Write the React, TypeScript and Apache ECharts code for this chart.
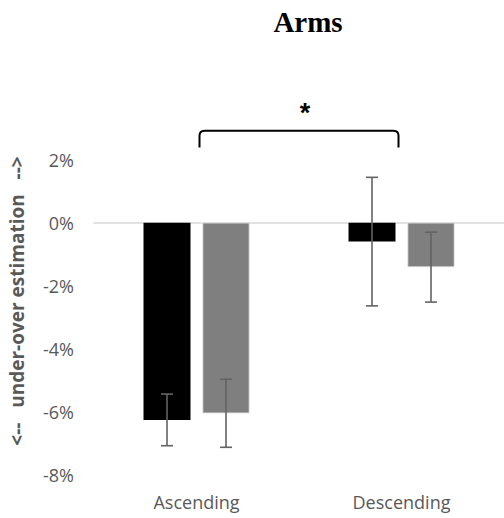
import React, { useEffect, useRef } from "react";
import * as echarts from "echarts";

const categories = ["Ascending", "Descending"];
const blackValues = [-6.26, -0.6];
const greyValues = [-6.05, -1.41];
const blackErrors = [0.82, 2.04];
const greyErrors = [1.08, 1.11];
const yTicks = [-8, -6, -4, -2, 0, 2, 4];
const bracket = [[0, 1, 2.92, 2.39]];

const FONT = "'Open Sans', 'Noto Sans', sans-serif";

export default function App() {
  const ref = useRef<HTMLDivElement>(null);
  useEffect(() => {
    document.body.style.margin = "0";
    const chart = echarts.init(ref.current!, null, { renderer: "svg" });
    const barW = 47;
    const gap = 12;
    const off = (barW + gap) / 2;
    const errData = (vals: number[], errs: number[], side: number) =>
      vals.map((v, i) => [i, v - errs[i], v + errs[i], side]);
    const errRender = (params: any, api: any) => {
      const i = api.value(0);
      const lo = api.coord([i, api.value(1)]);
      const hi = api.coord([i, api.value(2)]);
      const x = lo[0] + api.value(3) * off;
      const cap = 6;
      const style = { stroke: "#636363", lineWidth: 1.6, fill: "none" };
      return {
        type: "group",
        children: [
          { type: "line", shape: { x1: x, y1: lo[1], x2: x, y2: hi[1] }, style },
          { type: "line", shape: { x1: x - cap, y1: lo[1], x2: x + cap, y2: lo[1] }, style },
          { type: "line", shape: { x1: x - cap, y1: hi[1], x2: x + cap, y2: hi[1] }, style },
        ],
      };
    };
    chart.setOption({
      animation: false,
      grid: { left: 94, top: 96.7, width: 412, height: 378 },
      graphic: [
        {
          type: "text",
          x: 308,
          y: 22,
          style: {
            text: "Arms",
            fontFamily: "'Liberation Serif', 'Times New Roman', serif",
            fontWeight: "bold",
            fontSize: 29,
            fill: "#000",
            textAlign: "center",
            textVerticalAlign: "middle",
          },
        },
        {
          type: "text",
          x: 17,
          y: 301,
          rotation: Math.PI / 2,
          style: {
            text: "<--   under-over estimation   -->",
            fontFamily: FONT,
            fontWeight: "bold",
            fontSize: 19,
            fill: "#595959",
            textAlign: "center",
            textVerticalAlign: "middle",
          },
        },
      ],
      xAxis: {
        type: "category",
        data: categories,
        axisLine: { show: true, onZero: true, lineStyle: { color: "#d9d9d9", width: 1.5 } },
        axisTick: { show: false },
        axisLabel: {
          color: "#595959",
          fontSize: 18,
          fontFamily: FONT,
          margin: 18,
        },
        position: "bottom",
      },
      yAxis: {
        type: "value",
        min: -8,
        max: 4,
        interval: 2,
        axisLine: { show: false },
        axisTick: { show: false },
        splitLine: { show: false },
        axisLabel: {
          color: "#595959",
          fontSize: 18,
          fontFamily: FONT,
          margin: 20,
          formatter: (v: number) => (yTicks.includes(v) && v < 4 ? `${v}%` : ""),
        },
      },
      series: [
        {
          type: "bar",
          data: blackValues,
          barWidth: barW,
          barGap: `${(gap / barW) * 100}%`,
          itemStyle: { color: "#000000" },
        },
        {
          type: "bar",
          data: greyValues,
          barWidth: barW,
          itemStyle: { color: "#7f7f7f", borderColor: "#d9d9d9", borderWidth: 0.8 },
        },
        {
          type: "custom",
          data: errData(blackValues, blackErrors, -1),
          renderItem: errRender,
          z: 5,
        },
        {
          type: "custom",
          data: errData(greyValues, greyErrors, 1),
          renderItem: errRender,
          z: 5,
        },
        {
          type: "custom",
          data: bracket,
          clip: false,
          renderItem: (params: any, api: any) => {
            const a = api.coord([api.value(0), api.value(2)]);
            const b = api.coord([api.value(1), api.value(2)]);
            const leg = api.coord([api.value(0), api.value(3)]);
            const x1 = a[0] + 3;
            const x2 = b[0] - 3;
            const yt = a[1];
            const yb = leg[1];
            const r = 5;
            const d = `M ${x1} ${yb} L ${x1} ${yt + r} Q ${x1} ${yt} ${x1 + r} ${yt} L ${x2 - r} ${yt} Q ${x2} ${yt} ${x2} ${yt + r} L ${x2} ${yb}`;
            return {
              type: "group",
              children: [
                {
                  type: "path",
                  shape: { pathData: d },
                  style: { stroke: "#000", lineWidth: 2, fill: "none" },
                },
                {
                  type: "text",
                  x: (x1 + x2) / 2 + 6,
                  y: yt - 18,
                  style: {
                    text: "*",
                    fontFamily: "'Liberation Sans', sans-serif",
                    fontWeight: "bold",
                    fontSize: 27,
                    fill: "#000",
                    textAlign: "center",
                    textVerticalAlign: "middle",
                  },
                },
              ],
            };
          },
        },
      ],
    });
    return () => chart.dispose();
  }, []);
  return <div ref={ref} style={{ width: 504, height: 518 }} />;
}
